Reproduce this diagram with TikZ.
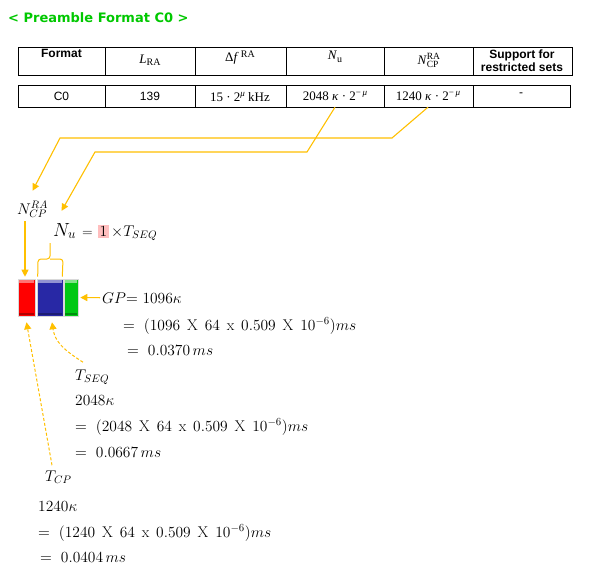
\RequirePackage{fix-cm}
\documentclass[tikz,border=0pt]{standalone}
\usepackage{fontspec}
\usetikzlibrary{arrows.meta}
\newfontfamily\titlefont{DejaVu Sans}
\newfontfamily\arialf{Liberation Sans}
\newfontfamily\timesf{Liberation Serif}
\definecolor{gold}{RGB}{255,192,0}
\definecolor{ttlgreen}{RGB}{0,200,0}
\definecolor{hl}{RGB}{255,190,190}
\definecolor{blkred}{RGB}{255,0,0}
\definecolor{blkblue}{RGB}{40,40,165}
\definecolor{blkgreen}{RGB}{0,200,20}
\tikzset{
  tbl/.style={draw=black, line width=1pt},
  hdr/.style={inner sep=0pt, align=center, font=\arialf\bfseries\fontsize{12}{13.5}\selectfont},
  cellr/.style={inner sep=0pt, minimum height=22pt},
  arr/.style={draw=gold, line width=1.1pt, -{Triangle[length=7pt,width=7pt]}},
  darr/.style={draw=gold, line width=1pt, dash pattern=on 3pt off 2pt, -{Triangle[length=7pt,width=7pt]}},
  eq/.style={anchor=base west, inner sep=0pt, font=\fontsize{15.5}{17}\selectfont},
  blk/.style={draw=black!15, line width=0.6pt, inner sep=0pt, minimum height=37pt},
}
\newcommand{\mysp}{\;\,}
\begin{document}
\begin{tikzpicture}[x=1pt,y=-1pt]
\useasboundingbox[fill=white] (0,0) rectangle (603,573);

% title
\node[anchor=base west, inner sep=0pt, text=ttlgreen, font=\titlefont\bfseries\fontsize{13}{15}\selectfont] (title) at (8,22) {< Preamble Format C0 >};

% table grid
\draw[tbl] (18,47) rectangle (572,75);
\foreach \x in {105,195,286,384,473} \draw[tbl] (\x,47) -- (\x,75);
\draw[tbl] (18,85) rectangle (570,107);
\foreach \x in {105,195,286,384,473} \draw[tbl] (\x,85) -- (\x,107);

% header texts
\node[hdr] (h1) at (61.5,53.5) {Format};
\node[inner sep=0pt, font=\timesf\fontsize{13}{14}\selectfont] (h2) at (150,60) {\textit{L}\raisebox{-2.5pt}{\fontsize{10}{10}\selectfont RA}};
\node[inner sep=0pt, font=\timesf\fontsize{13}{14}\selectfont] (h3) at (240,58) {Δ\textit{f}\,\raisebox{4pt}{\fontsize{10}{10}\selectfont RA}};
\node[inner sep=0pt, font=\timesf\fontsize{13}{14}\selectfont] (h4) at (335,57) {\textit{N}\raisebox{-2.5pt}{\fontsize{10}{10}\selectfont u}};
\node[inner sep=0pt, font=\timesf\fontsize{13}{14}\selectfont] (h5) at (428,60) {\textit{N}\makebox[0pt][l]{\raisebox{5pt}{\fontsize{9.5}{10}\selectfont RA}}\raisebox{-3pt}{\fontsize{9.5}{10}\selectfont CP}\hspace{12pt}};
\node[hdr] (h6) at (522,60.5) {Support for\\restricted sets};

% row texts
\node[cellr, font=\arialf\fontsize{12}{13}\selectfont] (c1) at (61.5,96) {C0};
\node[cellr, font=\arialf\fontsize{12}{13}\selectfont] (c2) at (150,96) {139};
\node[cellr, font=\timesf\fontsize{13}{14}\selectfont] (c3) at (240,97) {15 · 2\raisebox{4.5pt}{\fontsize{9}{9}\selectfont\textit{μ}} kHz};
\node[cellr, font=\timesf\fontsize{13}{14}\selectfont] (c4) at (335,96) {2048 \textit{κ} · 2\raisebox{4.5pt}{\fontsize{9}{9}\selectfont −\,\textit{μ}}};
\node[cellr, font=\timesf\fontsize{13}{14}\selectfont] (c5) at (428,96) {1240 \textit{κ} · 2\raisebox{4.5pt}{\fontsize{9}{9}\selectfont −\,\textit{μ}}};
\node[cellr, font=\arialf\fontsize{12}{13}\selectfont] (c6) at (521,95) {-};

% labels
\node[eq] (ncp) at (17,214) {$N_{CP}^{RA}$};
\node[eq, font=\fontsize{19}{20}\selectfont] (nu) at (53,236) {$N_u$};
\node[eq, font=\fontsize{14}{16}\selectfont] (nueq) at (82,236) {$=$};
\node[anchor=base west, inner sep=1.5pt, fill=hl, font=\fontsize{15.5}{17}\selectfont] (one) at (98,236) {$1$};
\node[eq] (nutseq) at (111,236) {$\times T_{SEQ}$};

% blocks
\node[blk, fill=blkred, minimum width=17pt] (red) at (26.5,297.5) {};
\node[blk, fill=blkblue, minimum width=26pt] (blue) at (50,297.5) {};
\node[blk, fill=blkgreen, minimum width=14pt] (green) at (71,297.5) {};
\fill[blkred!55!white] ([xshift=1pt,yshift=-1pt]red.north west) rectangle ([xshift=-1pt,yshift=-4pt]red.north east);
\fill[blkblue!50!white] ([xshift=1pt,yshift=-1pt]blue.north west) rectangle ([xshift=-1pt,yshift=-4pt]blue.north east);
\fill[blkgreen!50!white] ([xshift=1pt,yshift=-1pt]green.north west) rectangle ([xshift=-1pt,yshift=-4pt]green.north east);
\fill[blkred!70!black] ([xshift=1pt,yshift=3pt]red.south west) rectangle ([xshift=-1pt,yshift=1pt]red.south east);
\fill[blkblue!70!black] ([xshift=1pt,yshift=3pt]blue.south west) rectangle ([xshift=-1pt,yshift=1pt]blue.south east);
\fill[blkgreen!70!black] ([xshift=1pt,yshift=3pt]green.south west) rectangle ([xshift=-1pt,yshift=1pt]green.south east);

% brace over the blue block
\draw[gold, line width=1pt, rounded corners=3pt] ([xshift=1pt,yshift=2pt]blue.north west) -- (38,259) -- (50,259) -- (50,243);
\draw[gold, line width=1pt, rounded corners=3pt] ([xshift=-1pt,yshift=2pt]blue.north east) -- (63,259) -- (50,259);

% GP and formulas
\node[eq] (gp) at (102,303) {$GP{=}\ 1096\kappa$};
\node[eq] (gp2) at (123,330) {$=\ (1096\mysp \mathrm{X}\mysp 64\mysp \mathrm{x}\mysp 0.509\mysp \mathrm{X}\mysp 10^{-6})ms$};
\node[eq] (gp3) at (127,355) {$=\ 0.0370\,ms$};
\node[eq] (tseq) at (75,380) {$T_{SEQ}$};
\node[eq] (s1) at (75,405) {$2048\kappa$};
\node[eq] (s2) at (75,431) {$=\ (2048\mysp \mathrm{X}\mysp 64\mysp \mathrm{x}\mysp 0.509\mysp \mathrm{X}\mysp 10^{-6})ms$};
\node[eq] (s3) at (75,457) {$=\ 0.0667\,ms$};
\node[eq] (tcp) at (45,481) {$T_{CP}$};
\node[eq] (p1) at (38,511) {$1240\kappa$};
\node[eq] (p2) at (38,537) {$=\ (1240\mysp \mathrm{X}\mysp 64\mysp \mathrm{x}\mysp 0.509\mysp \mathrm{X}\mysp 10^{-6})ms$};
\node[eq] (p3) at (40,562) {$=\ 0.0404\,ms$};

% connectors
\coordinate (k1) at (392,138);
\coordinate (k2) at (60,138);
\coordinate (k3) at (307,152);
\coordinate (k4) at (95,152);
\draw[arr] (c5.south) -- (k1) -- (k2) -- ([xshift=0pt,yshift=10pt]ncp.north);
\draw[arr] (c4.south) -- (k3) -- (k4) -- ([xshift=-3pt,yshift=12pt]nu.north);
\draw[arr] ([xshift=8pt,yshift=-3pt]ncp.south west) -- ([xshift=-1.5pt,yshift=2pt]red.north);
\draw[arr] ([xshift=-2pt]gp.west) -- ([xshift=2pt]green.east);
\draw[darr] ([xshift=8pt,yshift=7pt]tseq.north west) .. controls (64,350) and (55,342) .. ([xshift=2pt,yshift=-6pt]blue.south);
\draw[darr] ([xshift=7pt,yshift=5pt]tcp.north west) -- ([xshift=0pt,yshift=-6pt]red.south);
\end{tikzpicture}
\end{document}
